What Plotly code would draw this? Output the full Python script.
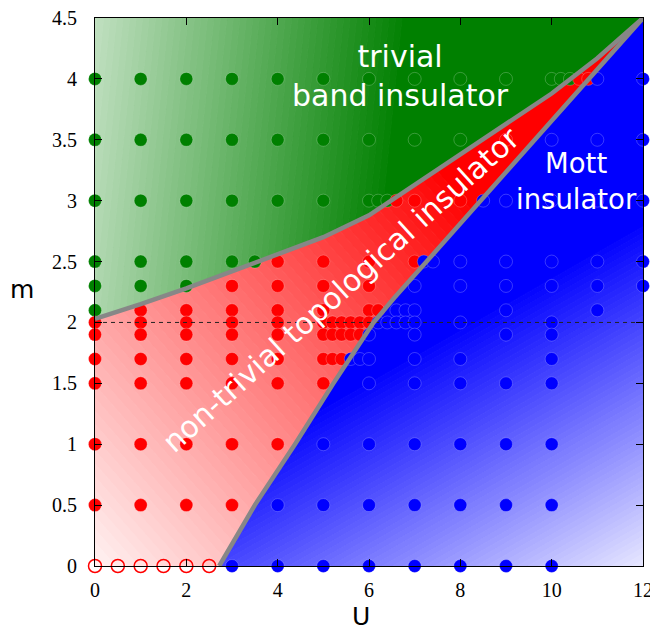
import numpy as np
import plotly.graph_objects as go

# ---------------- data ----------------
x_ticks = [0, 2, 4, 6, 8, 10, 12]
y_ticks = [0, 0.5, 1, 1.5, 2, 2.5, 3, 3.5, 4, 4.5]

# trivial band insulator points (green)
trivial_U = [0, 1, 2, 3, 4, 5, 6, 7, 8, 9, 10, 10.2, 10.4,
             0, 1, 2, 3, 4, 5, 6, 7, 8,
             0, 1, 2, 3, 4, 5, 6, 6.2, 6.4,
             0, 1, 2, 3, 3.5,
             0, 1, 2,
             0]
trivial_m = [4] * 13 + [3.5] * 9 + [3] * 9 + [2.5] * 5 + [2.3] * 3 + [2.1]

# non-trivial topological insulator points (red)
topo_U = [10.6, 10.8,
          9,
          6.6, 7, 8,
          4, 5, 6, 7,
          3, 4, 5, 6,
          1, 2, 3, 4, 5, 6, 6.2,
          0, 1, 2, 3, 4, 5, 5.2, 5.4, 5.6, 5.8, 6,
          0, 1, 2, 3, 4, 5, 5.2, 5.4, 5.6, 5.8,
          0, 1, 2, 3, 4, 5, 5.2, 5.4,
          0, 1, 2, 3, 4, 5,
          0, 1, 2, 3, 4,
          0, 1, 2, 3]
topo_m = ([4] * 2 + [3.5] + [3] * 3 + [2.5] * 4 + [2.3] * 4 + [2.1] * 7 +
          [2.0] * 11 + [1.9] * 10 + [1.7] * 8 + [1.5] * 6 + [1] * 5 + [0.5] * 4)

# Mott insulator points (blue)
mott_U = [11, 12,
          10, 11, 12,
          8.5, 9, 10, 11, 12,
          7.2, 7.4, 8, 9, 10, 11, 12,
          7, 8, 9, 10, 11, 12,
          6.6, 6.8, 7, 9, 11,
          6.2, 6.4, 6.6, 6.8, 7, 8, 10,
          6, 7, 9, 10,
          5.6, 5.8, 6, 7, 8, 10,
          6, 7, 8, 9, 10,
          5, 6, 7, 8, 9, 10,
          4, 5, 6, 7, 8, 9, 10,
          3, 4, 5, 6, 7, 8, 9, 10]
mott_m = ([4] * 2 + [3.5] * 3 + [3] * 5 + [2.5] * 7 + [2.3] * 6 + [2.1] * 5 +
          [2.0] * 7 + [1.9] * 4 + [1.7] * 6 + [1.5] * 5 + [1] * 6 + [0.5] * 7 + [0] * 8)

# m = 0 points (open circles)
open_U = [0, 0.5, 1, 1.5, 2, 2.5]
open_m = [0, 0, 0, 0, 0, 0]

# phase boundaries
tb_U = [0, 1, 2, 3, 4, 5, 6, 7, 8, 9, 10, 11, 12]
tb_m = [2.03, 2.15, 2.28, 2.42, 2.56, 2.70, 2.88, 3.13, 3.39, 3.64, 3.88, 4.17, 4.5]
tm_U = [2.72, 3.5, 4.38, 5.22, 6.1, 6.55, 12]
tm_m = [0, 0.5, 1.0, 1.5, 2.0, 2.2, 4.5]

U_MAX, M_MAX = 12, 4.5

# ---------------- helpers ----------------
def clip(poly, f):
    out = []
    n = len(poly)
    for i in range(n):
        P, Q = poly[i], poly[(i + 1) % n]
        fp, fq = f(P), f(Q)
        if fp >= 0:
            out.append(P)
        if (fp >= 0) != (fq >= 0):
            t = fp / (fp - fq)
            out.append((P[0] + t * (Q[0] - P[0]), P[1] + t * (Q[1] - P[1])))
    return out


def gradient_traces(poly, c, a, b, colfun, n=64):
    """Fill polygon with a linear (diagonal) white-to-colour gradient."""
    w = lambda p: c + a * p[0] + b * p[1]
    traces = []
    for k in range(n):
        lo = -np.inf if k == 0 else k / n
        hi = np.inf if k == n - 1 else (k + 1) / n
        part = poly
        if np.isfinite(lo):
            part = clip(part, lambda p, lo=lo: w(p) - lo)
        if len(part) >= 3 and np.isfinite(hi):
            part = clip(part, lambda p, hi=hi: hi - w(p))
        if len(part) < 3:
            continue
        wm = min(max((k + 0.5) / n, 0), 1)
        if k == 0:
            wm = 0.0
        if k == n - 1:
            wm = 1.0
        col = colfun(wm)
        xs = [p[0] for p in part] + [part[0][0]]
        ys = [p[1] for p in part] + [part[0][1]]
        traces.append(go.Scatter(x=xs, y=ys, mode="lines", fill="toself",
                                 fillcolor=col, line=dict(color=col, width=1),
                                 hoverinfo="skip", showlegend=False))
    return traces


def rgb(r, g, bb):
    return "rgb(%d,%d,%d)" % (round(r), round(g), round(bb))


tb = list(zip(tb_U, tb_m))
tm = list(zip(tm_U, tm_m))
green_poly = tb + [(0, M_MAX)]
red_poly = [(0, 0)] + tm + tb[::-1][1:]
blue_poly = tm + [(U_MAX, 0)]

fig = go.Figure()

for t in gradient_traces(green_poly, 0.62, -0.11, 0.03,
                         lambda w: rgb(255 * w, 128 + 127 * w, 255 * w)):
    fig.add_trace(t)
for t in gradient_traces(red_poly, 0.95, -0.062, -0.145,
                         lambda w: rgb(255, 255 * w, 255 * w)):
    fig.add_trace(t)
for t in gradient_traces(blue_poly, 0.084, 0.0686, -0.32,
                         lambda w: rgb(255 * w, 255 * w, 255)):
    fig.add_trace(t)

dot_line = dict(color="rgba(255,255,255,0.28)", width=0.8)
fig.add_trace(go.Scatter(x=trivial_U, y=trivial_m, mode="markers", cliponaxis=False,
                         marker=dict(size=13, color="#008000", line=dot_line),
                         showlegend=False))
fig.add_trace(go.Scatter(x=topo_U, y=topo_m, mode="markers", cliponaxis=False,
                         marker=dict(size=13, color="#ff0000", line=dot_line),
                         showlegend=False))
fig.add_trace(go.Scatter(x=mott_U, y=mott_m, mode="markers", cliponaxis=False,
                         marker=dict(size=13, color="#0000ff", line=dot_line),
                         showlegend=False))
fig.add_trace(go.Scatter(x=open_U, y=open_m, mode="markers", cliponaxis=False,
                         marker=dict(size=13, symbol="circle-open", color="#ff0000",
                                     line=dict(color="#ff0000", width=1.5)),
                         showlegend=False))

# dashed line at m = 2
fig.add_trace(go.Scatter(x=[0, U_MAX], y=[2, 2], mode="lines",
                         line=dict(color="#222222", width=1, dash="4px,4px"),
                         showlegend=False, hoverinfo="skip"))

# boundaries
fig.add_trace(go.Scatter(x=tb_U, y=tb_m, mode="lines",
                         line=dict(color="#878787", width=4.5), showlegend=False))
fig.add_trace(go.Scatter(x=tm_U, y=tm_m, mode="lines",
                         line=dict(color="#878787", width=4.5), showlegend=False))

tickfont = dict(family="Liberation Serif", size=20, color="black")
fig.update_xaxes(range=[0, U_MAX], tickvals=x_ticks, ticks="inside", ticklen=7,
                 tickwidth=1, tickcolor="black", showline=True, linecolor="black",
                 linewidth=1, mirror="ticks", showgrid=False, zeroline=False,
                 tickfont=tickfont, ticklabelstandoff=6, automargin=False,
                 ticklabeloverflow="allow")
fig.update_yaxes(range=[0, M_MAX], tickvals=y_ticks, ticks="inside", ticklen=7,
                 tickwidth=1, tickcolor="black", showline=True, linecolor="black",
                 linewidth=1, mirror="ticks", showgrid=False, zeroline=False,
                 tickfont=tickfont, ticklabelstandoff=13, automargin=False,
                 ticklabeloverflow="allow")

lab = dict(family="DejaVu Sans", color="white")
fig.add_annotation(x=6.68, y=4.02, text="trivial<br>band insulator", showarrow=False,
                   font=dict(size=30, **lab), xanchor="center", yanchor="middle")
fig.add_annotation(x=10.54, y=3.16, text="Mott<br>insulator", showarrow=False,
                   font=dict(size=27.5, **lab), xanchor="center", yanchor="middle")
fig.add_annotation(x=5.39, y=2.27, text="non-trivial topological insulator",
                   showarrow=False, textangle=-42,
                   font=dict(size=30, **lab), xanchor="center", yanchor="middle")

axlab = dict(family="DejaVu Sans", size=25, color="black")
fig.add_annotation(xref="paper", yref="paper", x=0.486, y=-0.093, text="U",
                   showarrow=False, font=axlab, xanchor="center", yanchor="middle")
fig.add_annotation(xref="paper", yref="paper", x=-0.133, y=0.504, text="m",
                   showarrow=False, font=axlab, xanchor="center", yanchor="middle")

# page body adds an 8 px offset, so margins are set to place the plot area
# at the same on-screen position as the reference
fig.update_layout(width=658, height=631, margin=dict(l=87, r=23, t=10, b=73),
                  paper_bgcolor="white", plot_bgcolor="white")

fig.write_html("out.html")
